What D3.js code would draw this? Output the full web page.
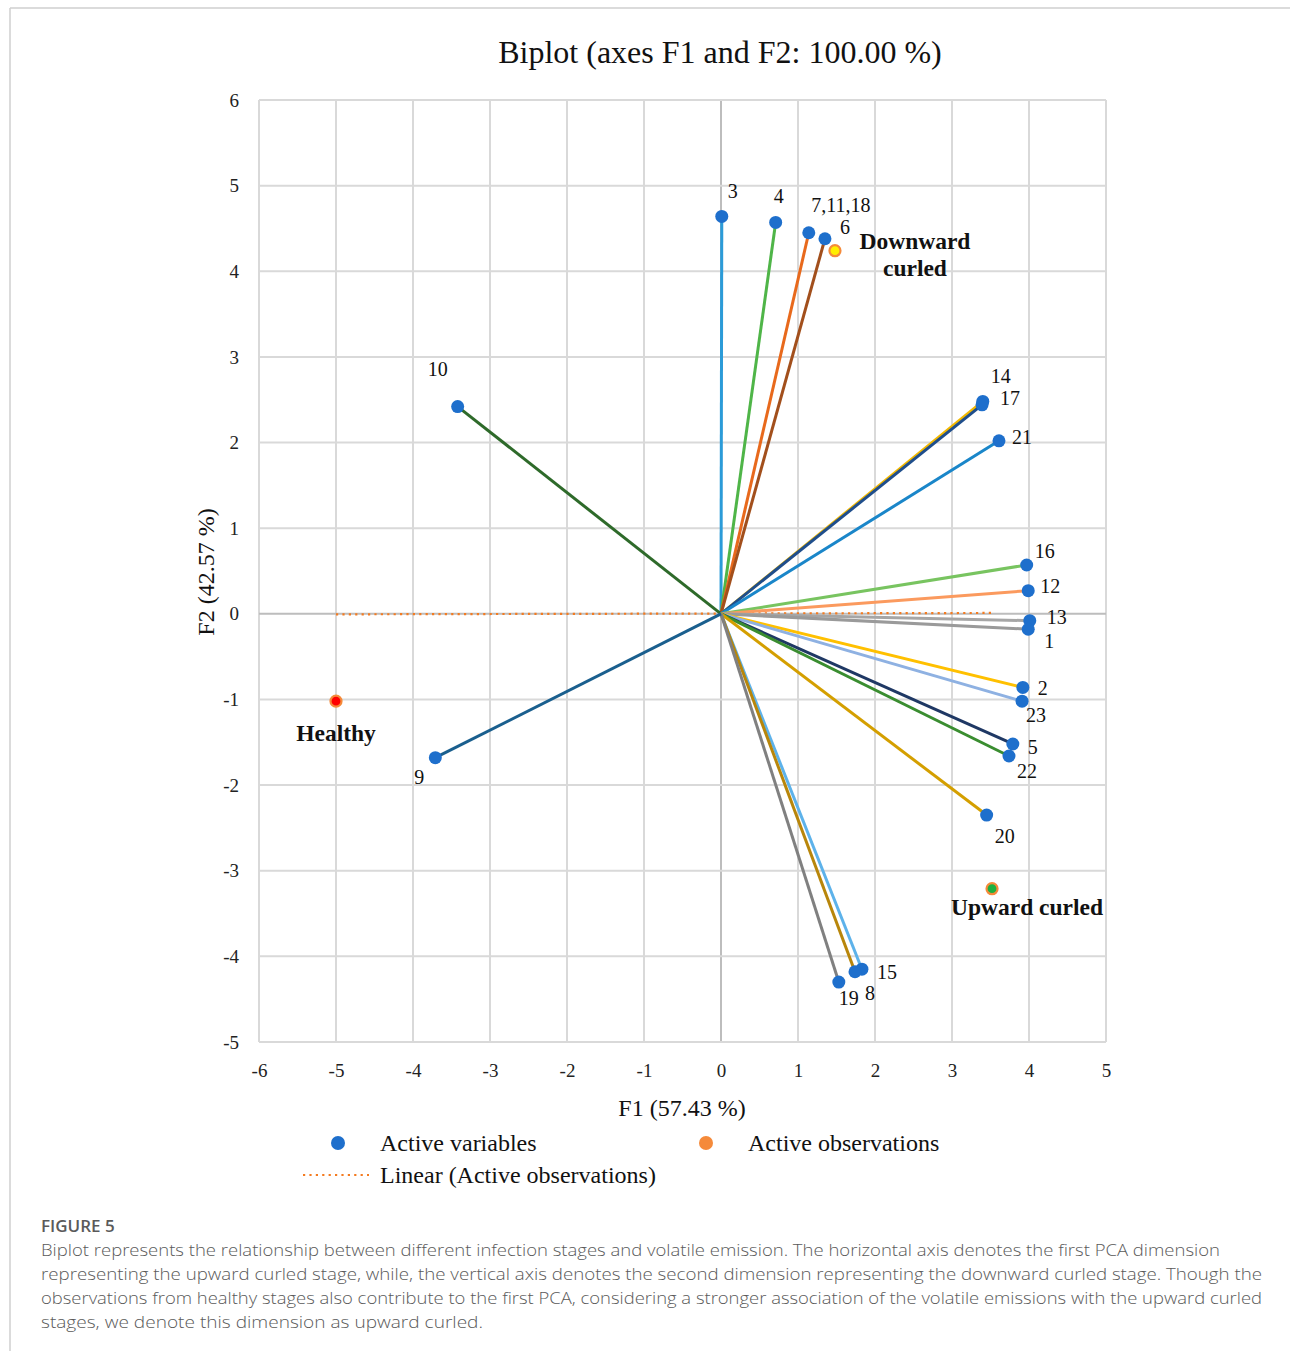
<!DOCTYPE html>
<html><head><meta charset="utf-8">
<script src="https://cdn.jsdelivr.net/npm/d3@7"></script>
<style>
html,body{margin:0;padding:0;background:#fff;}
svg{display:block;}
</style></head>
<body>
<svg id="chart" width="1290" height="1351"></svg>
<script>
// ---- data ----
const varLabels = ["3","4","7,11,18","6","10","14","17","21","16","12","13","1","2","23","5","22","20","15","8","19","9"];
const varF1 =     [0.01, 0.71, 1.14, 1.35, -3.42, 3.40, 3.39, 3.61, 3.97, 3.99, 4.01, 3.99, 3.92, 3.91, 3.79, 3.74, 3.45, 1.83, 1.74, 1.53, -3.71];
const varF2 =     [4.64, 4.57, 4.45, 4.38, 2.42, 2.48, 2.44, 2.02, 0.57, 0.27, -0.08, -0.18, -0.86, -1.02, -1.52, -1.66, -2.35, -4.15, -4.18, -4.30, -1.68];
const obsLabels = ["Healthy","Downward curled","Upward curled"];
const obsF1 = [-5.00, 1.48, 3.52];
const obsF2 = [-1.02, 4.24, -3.21];
const xTicks = [-6,-5,-4,-3,-2,-1,0,1,2,3,4,5];
const yTicks = [-5,-4,-3,-2,-1,0,1,2,3,4,5,6];

// ---- styles ----
const varColors = ["#2b9bd8","#4fb548","#e8691c","#a24f1c","#2e6a2a","#f2b800","#1f4e8c","#1a86c9","#78c460","#fb9a5e","#a6a6a6","#9a9a9a","#ffc000","#8eb1e2","#1f3864","#3a8d30","#d49f00","#5db2ea","#b8860b","#808080","#1a5f8e"];
// label offsets (px) relative to the variable point
const varLabelDx = [11, 3, 32, 20, -20, 18, 28, 23, 18, 22, 27, 21, 20, 14, 20, 18, 18, 25, 15, 10, -16];
const varLabelDy = [-23, -24, -25, -9, -35, -23, -4, -1, -12, -2, -1, 14, 3, 16, 5, 17, 23, 5, 24, 18, 22];
const obsFill = ["#ff0000","#ffee00","#1db040"];
const obsLabelLines = [["Healthy"],["Downward","curled"],["Upward curled"]];
const obsLabelDx = [0, 80, 35];
const obsLabelDy = [35, -7, 21];

const svg = d3.select("#chart");
const serif = "'Liberation Serif','Times New Roman',serif";

// frame lines
svg.append("line").attr("x1",10).attr("x2",1290).attr("y1",8).attr("y2",8).attr("stroke","#cfcfcf").attr("stroke-width",1.5);
svg.append("line").attr("x1",10).attr("x2",10).attr("y1",8).attr("y2",1351).attr("stroke","#cfcfcf").attr("stroke-width",1.5);

const x = d3.scaleLinear().domain([-6,5]).range([259,1106]);
const y = d3.scaleLinear().domain([-5,6]).range([1042,100]);

// grid
const g = svg.append("g");
g.selectAll(".vg").data(xTicks).enter().append("line")
  .attr("x1",d=>x(d)).attr("x2",d=>x(d)).attr("y1",y(6)).attr("y2",y(-5))
  .attr("stroke",d=>d===0?"#bdbdbd":"#d9d9d9").attr("stroke-width",2);
g.selectAll(".hg").data(yTicks).enter().append("line")
  .attr("x1",x(-6)).attr("x2",x(5)).attr("y1",d=>y(d)).attr("y2",d=>y(d))
  .attr("stroke",d=>d===0?"#bdbdbd":"#d9d9d9").attr("stroke-width",2);

// axes tick labels via d3 axes (hyphen minus as in reference)
const fmt = d => String(d);
const xAxis = svg.append("g").attr("transform",`translate(0,${y(-5)})`)
  .call(d3.axisBottom(x).tickValues(xTicks).tickSize(0).tickPadding(22).tickFormat(fmt));
const yAxis = svg.append("g").attr("transform",`translate(${x(-6)},0)`)
  .call(d3.axisLeft(y).tickValues(yTicks).tickSize(0).tickPadding(20).tickFormat(fmt));
[xAxis,yAxis].forEach(a=>{
  a.select(".domain").remove();
  a.selectAll("text").attr("font-family",serif).attr("font-size",19).attr("fill","#222");
});

// linear trend of active observations
const mx = d3.mean(obsF1), my = d3.mean(obsF2);
const slope = d3.sum(obsF1.map((v,i)=>(v-mx)*(obsF2[i]-my))) / d3.sum(obsF1.map(v=>(v-mx)*(v-mx)));
const x0 = d3.min(obsF1), x1 = d3.max(obsF1);
svg.append("line")
  .attr("x1",x(x0)).attr("x2",x(x1))
  .attr("y1",y(my+slope*(x0-mx))).attr("y2",y(my+slope*(x1-mx)))
  .attr("stroke","#f47b20").attr("stroke-width",2.2).attr("stroke-dasharray","2.2,4.2");

// vectors
const vars = varLabels.map((l,i)=>({l, f1:varF1[i], f2:varF2[i], c:varColors[i], dx:varLabelDx[i], dy:varLabelDy[i]}));
svg.append("g").selectAll("line").data(vars).enter().append("line")
  .attr("x1",x(0)).attr("y1",y(0)).attr("x2",d=>x(d.f1)).attr("y2",d=>y(d.f2))
  .attr("stroke",d=>d.c).attr("stroke-width",3);
svg.append("g").selectAll("circle").data(vars).enter().append("circle")
  .attr("cx",d=>x(d.f1)).attr("cy",d=>y(d.f2)).attr("r",6.5).attr("fill","#1e6fcc");
svg.append("g").selectAll("text").data(vars).enter().append("text")
  .attr("x",d=>x(d.f1)+d.dx).attr("y",d=>y(d.f2)+d.dy)
  .attr("text-anchor","middle").attr("dominant-baseline","middle")
  .attr("font-family",serif).attr("font-size",20).attr("fill","#111").text(d=>d.l);

// observations
const obs = obsLabels.map((l,i)=>({l, f1:obsF1[i], f2:obsF2[i], fill:obsFill[i], lines:obsLabelLines[i], dx:obsLabelDx[i], dy:obsLabelDy[i]}));
svg.append("g").selectAll("circle").data(obs).enter().append("circle")
  .attr("cx",d=>x(d.f1)).attr("cy",d=>y(d.f2)).attr("r",5.5)
  .attr("fill",d=>d.fill).attr("stroke","#f58a3a").attr("stroke-width",2.2);
const ot = svg.append("g").selectAll("text").data(obs).enter().append("text")
  .attr("x",d=>x(d.f1)+d.dx).attr("y",d=>y(d.f2)+d.dy)
  .attr("text-anchor","middle").attr("dominant-baseline","middle")
  .attr("font-family",serif).attr("font-size",23.5).attr("font-weight","bold").attr("fill","#111");
ot.each(function(d){
  d3.select(this).selectAll("tspan").data(d.lines).enter().append("tspan")
    .attr("x",x(d.f1)+d.dx).attr("dy",(t,j)=>j===0?0:27).text(t=>t);
});

// title & axis titles
svg.append("text").attr("x",720).attr("y",63).attr("text-anchor","middle")
  .attr("font-family",serif).attr("font-size",32).attr("fill","#111")
  .text("Biplot (axes F1 and F2: 100.00 %)");
svg.append("text").attr("x",682).attr("y",1116).attr("text-anchor","middle")
  .attr("font-family",serif).attr("font-size",24).attr("fill","#111")
  .text("F1 (57.43 %)");
svg.append("text").attr("transform","translate(214,572) rotate(-90)").attr("text-anchor","middle")
  .attr("font-family",serif).attr("font-size",24).attr("fill","#111")
  .text("F2 (42.57 %)");

// legend
const lg = svg.append("g").attr("font-family",serif).attr("font-size",24).attr("fill","#111");
lg.append("circle").attr("cx",338).attr("cy",1143).attr("r",7).attr("fill","#1e6fcc");
lg.append("text").attr("x",380).attr("y",1151).text("Active variables");
lg.append("circle").attr("cx",706).attr("cy",1143).attr("r",7).attr("fill","#f58a3a");
lg.append("text").attr("x",748).attr("y",1151).text("Active observations");
lg.append("line").attr("x1",303).attr("x2",369).attr("y1",1175).attr("y2",1175)
  .attr("stroke","#f47b20").attr("stroke-width",2.2).attr("stroke-dasharray","2.2,4.2");
lg.append("text").attr("x",380).attr("y",1183).text("Linear (Active observations)");

// caption
const sans = "'Open Sans','Noto Sans',sans-serif";
svg.append("text").attr("x",41).attr("y",1232).attr("font-family",sans).attr("font-size",17)
  .attr("font-weight",600).attr("fill","#5a5a5a").text("FIGURE 5");
const capLines = [
 "Biplot represents the relationship between different infection stages and volatile emission. The horizontal axis denotes the first PCA dimension",
 "representing the upward curled stage, while, the vertical axis denotes the second dimension representing the downward curled stage. Though the",
 "observations from healthy stages also contribute to the first PCA, considering a stronger association of the volatile emissions with the upward curled",
 "stages, we denote this dimension as upward curled."
];
const capWidths = [1179, 1221, 1221, 442];
svg.append("g").selectAll("text").data(capLines).enter().append("text")
  .attr("x",41).attr("y",(d,i)=>1256+i*24)
  .attr("font-family",sans).attr("font-size",17).attr("font-weight",300).attr("fill","#5a5a5a")
  .attr("textLength",(d,i)=>capWidths[i]).attr("lengthAdjust","spacingAndGlyphs")
  .text(d=>d);
</script>
</body></html>
